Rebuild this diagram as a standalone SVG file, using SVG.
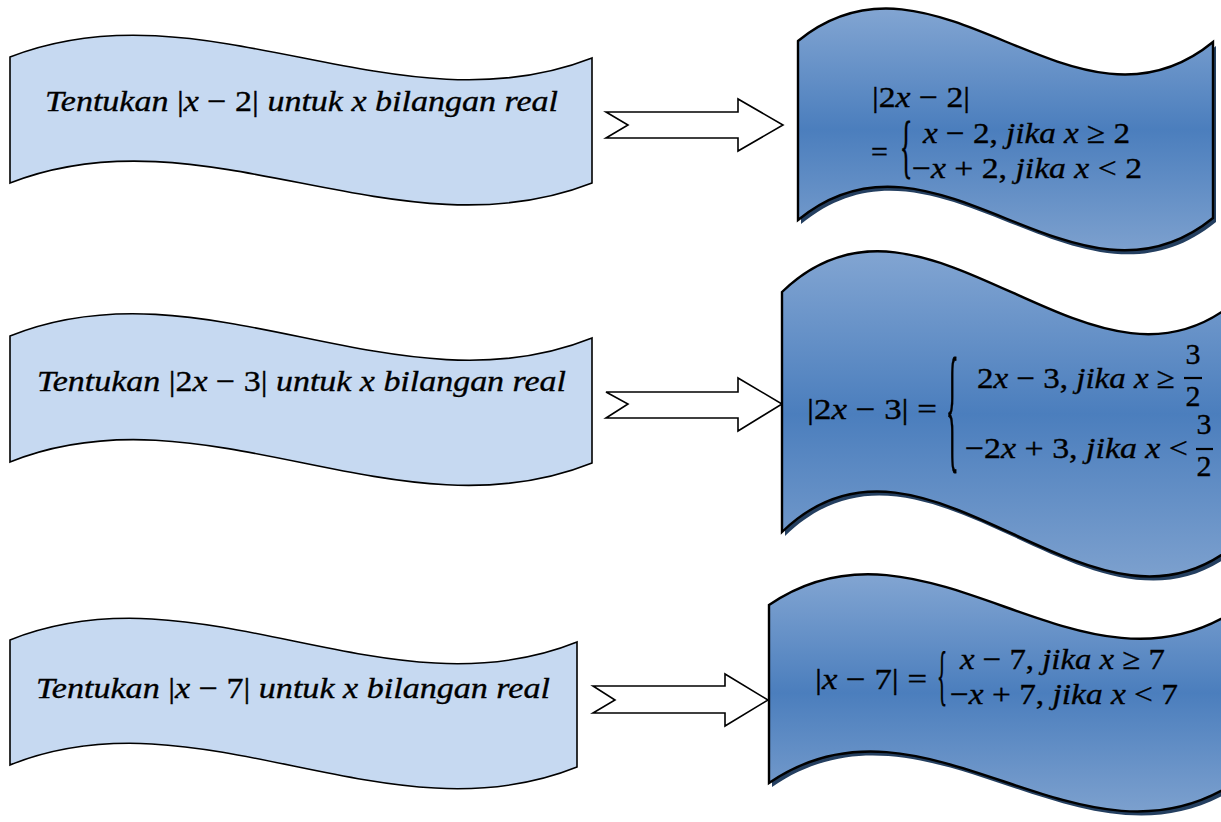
<svg xmlns="http://www.w3.org/2000/svg" width="1221" height="822" viewBox="0 0 1221 822">
<style>
.lw{fill:#c6d9f1;stroke:#000;stroke-width:1.6}
.rw{fill:url(#g);stroke:#000;stroke-width:2.4}
.sh{fill:#243f60}
.ar{fill:#fff;stroke:#000;stroke-width:1.6;stroke-linejoin:miter}
.m{font-family:"Liberation Serif","DejaVu Serif",serif;font-style:italic;font-size:30px;fill:#000;stroke:#000;stroke-width:0.35}
.u{font-style:normal}
.b{font-family:"Liberation Serif","DejaVu Serif",serif;font-style:normal;fill:#000;stroke:#000;stroke-width:0.35}
.fb{stroke:#000;stroke-width:2.2}
</style>
<defs>
<linearGradient id="g" x1="0" y1="0" x2="0" y2="1">
<stop offset="0" stop-color="#82a5d2"/>
<stop offset="0.5" stop-color="#4b7ebd"/>
<stop offset="1" stop-color="#7ca0ce"/>
</linearGradient>
</defs>

<g id="connectors">
<polygon class="ar" points="606,112 738,112 738,99 783,125 738,151 738,138 606,138 628,125"/>
<polygon class="ar" points="606,392 738,392 738,378 782,404 738,431 738,418 606,418 628,404"/>
<polygon class="ar" points="593,686 725,686 725,674 768,700 725,726 725,713 593,713 615,700"/>
</g>

<g id="q1">
<path class="lw" d="M10,57 C204,-19 398,134 592,58 L592,183 C398,259 204,107 10,183 Z"/>
<text class="m" x="45" y="111" textLength="513" lengthAdjust="spacingAndGlyphs">Tentukan <tspan class="u">|</tspan>x <tspan class="u">− 2|</tspan> untuk x bilangan real</text>
</g>

<g id="q2">
<path class="lw" d="M10,336 C204,258 398,416 592,338 L592,463 C398,541 204,384 10,462 Z"/>
<text class="m" x="37" y="391" textLength="529" lengthAdjust="spacingAndGlyphs">Tentukan <tspan class="u">|2</tspan>x <tspan class="u">− 3|</tspan> untuk x bilangan real</text>
</g>

<g id="q3">
<path class="lw" d="M10,640 C199,564 388,718 577,642 L577,767 C388,843 199,689 10,765 Z"/>
<text class="m" x="36" y="698" textLength="514" lengthAdjust="spacingAndGlyphs">Tentukan <tspan class="u">|</tspan>x <tspan class="u">− 7|</tspan> untuk x bilangan real</text>
</g>

<g id="a1">
<path class="sh" transform="translate(3,4)" d="M798,41 C936,-72 1075,155 1213,42 L1213,218 C1075,330 936,106 798,220 Z"/>
<path class="rw" d="M798,41 C936,-72 1075,155 1213,42 L1213,218 C1075,330 936,106 798,220 Z"/>
<text class="m" x="872" y="107" textLength="98" lengthAdjust="spacingAndGlyphs"><tspan class="u">|2</tspan>x <tspan class="u">− 2|</tspan></text>
<text class="m u" x="871" y="162">=</text>
<text class="b" font-size="30" transform="translate(900,170) scale(0.85,2.3)">{</text>
<text class="m" x="923" y="143" textLength="207" lengthAdjust="spacingAndGlyphs">x <tspan class="u">− 2, </tspan>jika x <tspan class="u">≥ 2</tspan></text>
<text class="m" x="912" y="178" textLength="230" lengthAdjust="spacingAndGlyphs"><tspan class="u">−</tspan>x <tspan class="u">+ 2, </tspan>jika x <tspan class="u">&lt; 2</tspan></text>
</g>

<g id="a2">
<path class="sh" transform="translate(3,4)" d="M782,292 C928,150 1098,436 1245,293 L1245,536 C1098,678 928,390 782,532 Z"/>
<path class="rw" d="M782,292 C928,150 1098,436 1245,293 L1245,536 C1098,678 928,390 782,532 Z"/>
<text class="m" x="807" y="419" textLength="130" lengthAdjust="spacingAndGlyphs"><tspan class="u">|2</tspan>x <tspan class="u">− 3| =</tspan></text>
<text class="b" font-size="44" transform="translate(946,454) scale(0.6,3.2)">{</text>
<text class="m" x="977" y="388" textLength="198" lengthAdjust="spacingAndGlyphs"><tspan class="u">2</tspan>x <tspan class="u">− 3, </tspan>jika x <tspan class="u">≥</tspan></text>
<text class="b" font-size="30" x="1193" y="364" text-anchor="middle">3</text>
<line class="fb" x1="1184" y1="378" x2="1202" y2="378"/>
<text class="b" font-size="30" x="1193" y="406" text-anchor="middle">2</text>
<text class="m" x="965" y="458" textLength="223" lengthAdjust="spacingAndGlyphs"><tspan class="u">−2</tspan>x <tspan class="u">+ 3, </tspan>jika x <tspan class="u">&lt;</tspan></text>
<text class="b" font-size="30" x="1204" y="434" text-anchor="middle">3</text>
<line class="fb" x1="1196" y1="449" x2="1213" y2="449"/>
<text class="b" font-size="30" x="1204" y="476" text-anchor="middle">2</text>
</g>

<g id="a3">
<path class="sh" transform="translate(3,4)" d="M769,605 C926,497 1082,716 1239,608 L1239,780 C1082,888 926,675 769,783 Z"/>
<path class="rw" d="M769,605 C926,497 1082,716 1239,608 L1239,780 C1082,888 926,675 769,783 Z"/>
<text class="m" x="815" y="689" textLength="112" lengthAdjust="spacingAndGlyphs"><tspan class="u">|</tspan>x <tspan class="u">− 7| =</tspan></text>
<text class="b" font-size="30" transform="translate(937,697) scale(0.7,2.2)">{</text>
<text class="m" x="960" y="669" textLength="205" lengthAdjust="spacingAndGlyphs">x <tspan class="u">− 7, </tspan>jika x <tspan class="u">≥ 7</tspan></text>
<text class="m" x="950" y="704" textLength="228" lengthAdjust="spacingAndGlyphs"><tspan class="u">−</tspan>x <tspan class="u">+ 7, </tspan>jika x <tspan class="u">&lt; 7</tspan></text>
</g>
</svg>
